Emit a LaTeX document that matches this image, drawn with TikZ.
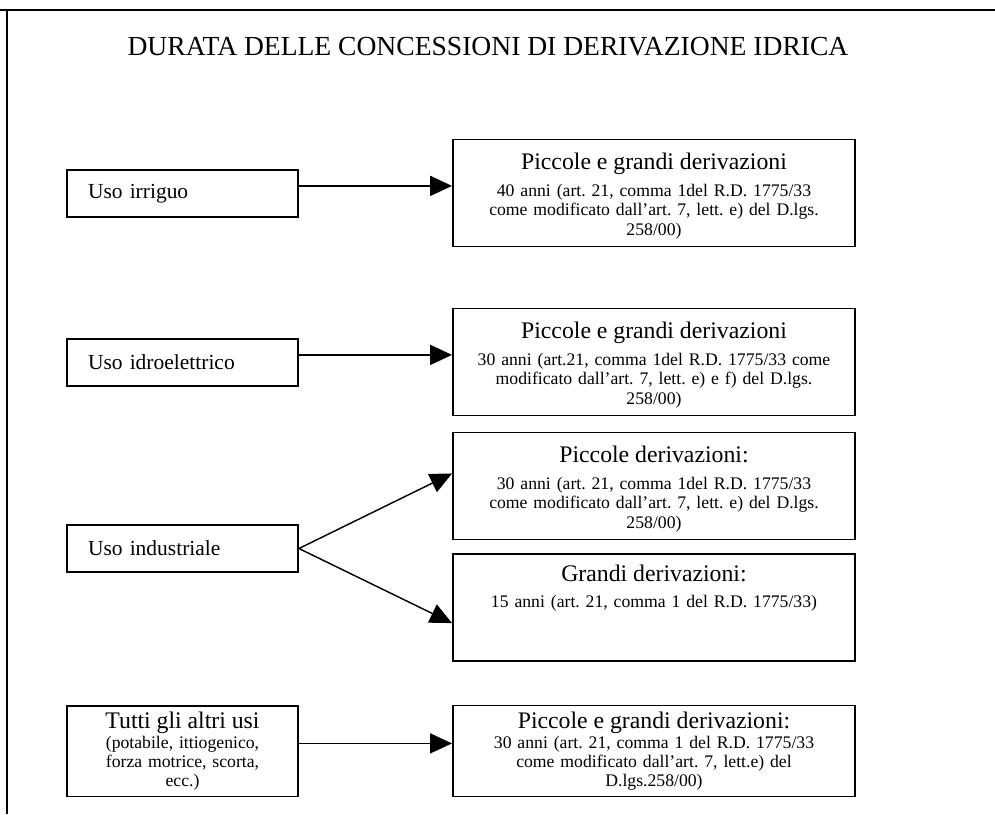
\documentclass[tikz,border=0pt]{standalone}
\usepackage{fontspec}
\setmainfont{Liberation Serif}
\usetikzlibrary{arrows.meta,positioning}
\frenchspacing

\def\px{0.526pt}
\tikzset{
	usebox/.style={draw, line width=1pt, minimum width=231*\px, minimum height=47*\px,
		inner xsep=0pt, text width=189*\px, align=left, font=\fontsize{11.3}{14}\selectfont},
	durbox/.style={draw, line width=1pt, minimum width=402*\px, minimum height=107*\px,
		inner xsep=0pt, text width=396*\px, align=center, font=\fontsize{9.3}{10.5}\selectfont},
	arr/.style={-{Triangle[length=11.5pt,width=10.5pt]}, line width=0.75pt},
	hd/.style={font=\fontsize{12.5}{14}\selectfont}
}

\begin{document}
\begin{tikzpicture}[x=\px, y=-\px]
	\useasboundingbox (0,0) rectangle (995,814);
	
	%frame
	\draw[line width=1.1pt] (0,10) -- (995,10);
	\draw[line width=1.1pt] (7,10) -- (7,814);
	
	\node[font=\fontsize{14.5}{16}\selectfont] (title) at (488,47) {DURATA DELLE CONCESSIONI DI DERIVAZIONE IDRICA};
	
	%Uso irriguo
	\node[usebox] (irr) at (182.5,193.5) {Uso irriguo};
	\node[durbox, text depth=33.5pt] (pg1) at (654,193) {{\fontsize{12.5}{14}\selectfont Piccole e grandi derivazioni}\\[3.5pt]
		40 anni (art. 21, comma 1del R.D. 1775/33\\
		come modificato dall’art. 7, lett. e) del D.lgs.\\
		258/00)};
	\draw[arr] ([yshift=4pt]irr.east) -- ([yshift=4pt]irr.east -| pg1.west);
	
	%Uso idroelettrico
	\node[usebox] (idro) at (182.5,362.5) {Uso idroelettrico};
	\node[durbox, text depth=33.5pt] (pg2) at (654,362) {{\fontsize{12.5}{14}\selectfont Piccole e grandi derivazioni}\\[3.5pt]
		30 anni (art.21, comma 1del R.D. 1775/33 come\\
		modificato dall’art. 7, lett. e) e f) del D.lgs.\\
		258/00)};
	\draw[arr] ([yshift=4pt]idro.east) -- ([yshift=4pt]idro.east -| pg2.west);
	
	%Uso industriale
	\node[usebox] (ind) at (182.5,548.5) {Uso industriale};
	\node[durbox, text depth=33.5pt] (pd) at (654,486) {{\fontsize{12.5}{14}\selectfont Piccole derivazioni:}\\[3.5pt]
		30 anni (art. 21, comma 1del R.D. 1775/33\\
		come modificato dall’art. 7, lett. e) del D.lgs.\\
		258/00)};
	\node[durbox, text depth=36pt] (gd) at (654,607.5) {{\fontsize{12.5}{14}\selectfont Grandi derivazioni:}\\[3pt]
		15 anni (art. 21, comma 1 del R.D. 1775/33)};
	\draw[arr] (ind.east) -- ([yshift=6.6pt]pd.west);
	\draw[arr] (ind.east) -- ([yshift=-8.2pt]gd.west);
	
	%Tutti gli altri usi
	\node[usebox, minimum height=88*\px, align=center, font=\fontsize{9.3}{10}\selectfont] (altri) at (182.5,751)
		{{\fontsize{12.5}{14}\selectfont Tutti gli altri usi}\\[0.5pt]
		(potabile, ittiogenico,\\ forza motrice, scorta,\\ ecc.)};
	\node[durbox, minimum height=88*\px, font=\fontsize{9.3}{10}\selectfont] (pg3) at (654,751) {{\fontsize{12.5}{14}\selectfont Piccole e grandi derivazioni:}\\[0.5pt]
		30 anni (art. 21, comma 1 del R.D. 1775/33\\
		come modificato dall’art. 7, lett.e) del\\
		D.lgs.258/00)};
	\draw[arr] ([yshift=4pt]altri.east) -- ([yshift=4pt]altri.east -| pg3.west);
\end{tikzpicture}
\end{document}
